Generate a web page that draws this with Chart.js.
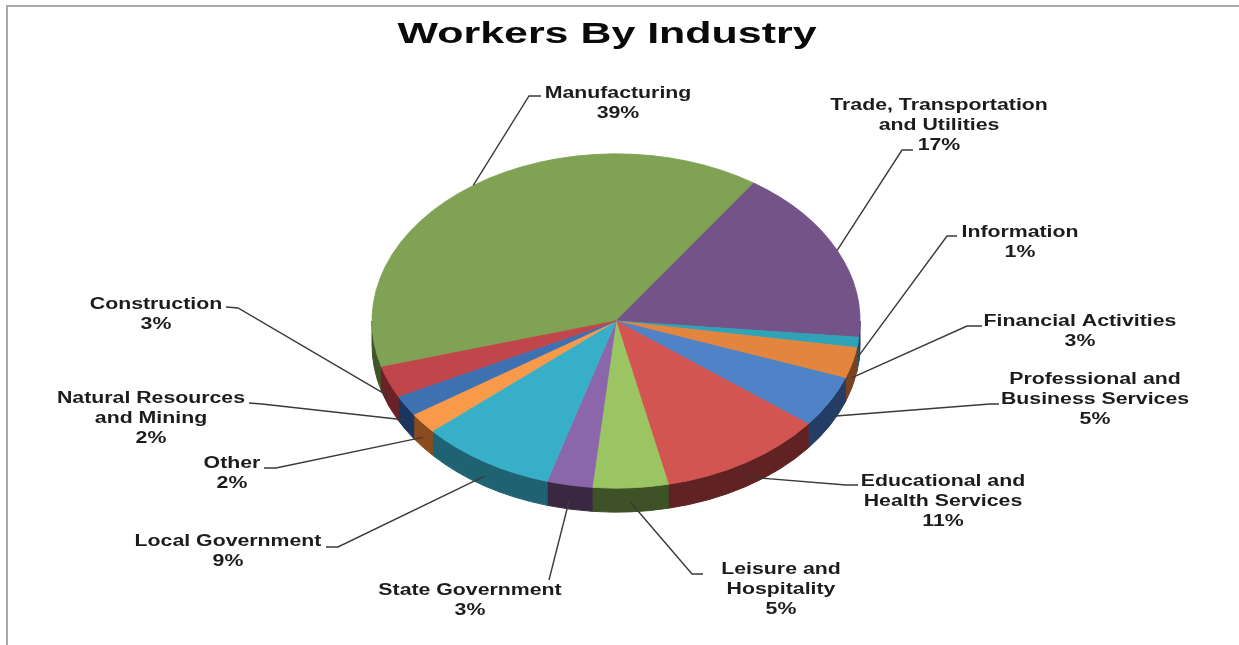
<!DOCTYPE html>
<html>
<head>
<meta charset="utf-8">
<title>Workers By Industry</title>
<script src="https://cdn.jsdelivr.net/npm/chart.js@4.4.1/dist/chart.umd.min.js"></script>
<style>
  html, body { margin: 0; padding: 0; background: #fff; }
  #wrap { position: relative; width: 1239px; height: 645px; }
</style>
</head>
<body>
<div id="wrap"><canvas id="industryChart"></canvas></div>
<script>
// slices, clockwise
const industries = [
  'Manufacturing',
  'Trade, Transportation\nand Utilities',
  'Information',
  'Financial Activities',
  'Professional and\nBusiness Services',
  'Educational and\nHealth Services',
  'Leisure and\nHospitality',
  'State Government',
  'Local Government',
  'Other',
  'Natural Resources\nand Mining',
  'Construction'
];
const shares = [39, 17, 1, 3, 5, 11, 5, 3, 9, 2, 2, 3];

const topColors  = ['#7fa254', '#745389', '#2fa3b8', '#e3843f', '#4f82c6', '#d35552',
                    '#9bc462', '#8c66aa', '#38afc8', '#f89a4a', '#3e71b2', '#c0464b'];
const sideColors = ['#40552a', '#3b2a48', '#18596a', '#7a4220', '#233d66', '#602222',
                    '#3e5127', '#3a2842', '#1f6272', '#8a4c1e', '#1c3560', '#6a2226'];

// where each label sits: text centre x, first baseline, leader start + elbow
const labelSpots = [
  { x: 618,  y: 98,  from: [541, 96],  elbow: [529, 96] },
  { x: 939,  y: 110, from: [913, 150], elbow: [902, 150] },
  { x: 1020, y: 237, from: [957, 236], elbow: [947, 236] },
  { x: 1080, y: 326, from: [982, 326], elbow: [967, 326] },
  { x: 1095, y: 384, from: [999, 404], elbow: [990, 404] },
  { x: 943,  y: 486, from: [858, 485], elbow: [846, 485] },
  { x: 781,  y: 574, from: [703, 574], elbow: [692, 574] },
  { x: 470,  y: 595, from: [549, 580], elbow: [549, 580] },
  { x: 228,  y: 546, from: [326, 547], elbow: [338, 547] },
  { x: 232,  y: 468, from: [264, 468], elbow: [276, 468] },
  { x: 151,  y: 403, from: [249, 403], elbow: [262, 404] },
  { x: 156,  y: 309, from: [226, 307], elbow: [238, 308] }
];

const TILT = 0.685;   // vertical squash of the pie top
const DEPTH = 24;     // wall height in px
const LINE_H = 20;

// parts of an arc that face the viewer (0..PI, mod 2PI)
function frontSpans(start, end) {
  const out = [];
  for (let k = -1; k <= 2; k++) {
    const a = Math.max(start, k * 2 * Math.PI);
    const b = Math.min(end, k * 2 * Math.PI + Math.PI);
    if (b > a) out.push([a, b]);
  }
  return out;
}

function stretchedText(ctx, text, x, y, sx) {
  ctx.save();
  ctx.translate(x, y);
  ctx.scale(sx, 1);
  ctx.fillText(text, 0, 0);
  ctx.restore();
}

const pie3d = {
  id: 'pie3d',
  beforeDatasetsDraw(chart) {
    const ctx = chart.ctx;
    const arcs = chart.getDatasetMeta(0).data;

    // side walls first
    arcs.forEach((arc, i) => {
      const { x, y, startAngle, endAngle, outerRadius } =
        arc.getProps(['x', 'y', 'startAngle', 'endAngle', 'outerRadius'], true);
      frontSpans(startAngle, endAngle).forEach(([a, b]) => {
        ctx.beginPath();
        ctx.ellipse(x, y, outerRadius, outerRadius * TILT, 0, a, b);
        ctx.ellipse(x, y + DEPTH, outerRadius, outerRadius * TILT, 0, b, a, true);
        ctx.closePath();
        ctx.fillStyle = sideColors[i];
        ctx.strokeStyle = sideColors[i];
        ctx.lineWidth = 1;
        ctx.fill();
        ctx.stroke();
      });
    });

    // then the squashed top faces
    arcs.forEach(arc => {
      ctx.save();
      ctx.translate(arc.x, arc.y);
      ctx.scale(1, TILT);
      ctx.translate(-arc.x, -arc.y);
      arc.draw(ctx);
      ctx.restore();
    });
    return false;
  },
  afterDraw(chart) {
    const ctx = chart.ctx;
    const arcs = chart.getDatasetMeta(0).data;

    // frame
    ctx.save();
    ctx.strokeStyle = '#a9a9a9';
    ctx.lineWidth = 2;
    ctx.beginPath();
    ctx.moveTo(7, 645);
    ctx.lineTo(7, 6);
    ctx.lineTo(1239, 6);
    ctx.stroke();

    // title
    ctx.fillStyle = '#0a0a0a';
    ctx.font = 'bold 29px "Liberation Sans", Arial, sans-serif';
    ctx.textAlign = 'center';
    ctx.textBaseline = 'alphabetic';
    stretchedText(ctx, 'Workers By Industry', 607, 43, 1.48);

    // leader lines + labels
    ctx.font = 'bold 16px "Liberation Sans", Arial, sans-serif';
    ctx.fillStyle = '#1c1c1c';
    ctx.strokeStyle = '#3a3a3a';
    ctx.lineWidth = 1.4;
    arcs.forEach((arc, i) => {
      const { x, y, startAngle, endAngle, outerRadius } =
        arc.getProps(['x', 'y', 'startAngle', 'endAngle', 'outerRadius'], true);
      const mid = (startAngle + endAngle) / 2;
      const ax = x + outerRadius * Math.cos(mid);
      let ay = y + outerRadius * TILT * Math.sin(mid);
      if (Math.sin(mid) > 0.05) ay += DEPTH * 0.6;

      const spot = labelSpots[i];
      ctx.beginPath();
      ctx.moveTo(spot.from[0], spot.from[1]);
      ctx.lineTo(spot.elbow[0], spot.elbow[1]);
      ctx.lineTo(ax, ay);
      ctx.stroke();

      const lines = industries[i].split('\n').concat(shares[i] + '%');
      lines.forEach((t, k) => stretchedText(ctx, t, spot.x, spot.y + k * LINE_H, 1.33));
    });
    ctx.restore();
  }
};

const ctx = document.getElementById('industryChart').getContext('2d');
const industryChart = new Chart(ctx, {
  type: 'pie',
  data: {
    labels: industries,
    datasets: [{
      data: shares,
      backgroundColor: topColors,
      borderColor: topColors,
      borderWidth: 1,
      hoverOffset: 0
    }]
  },
  options: {
    responsive: true,
    maintainAspectRatio: false,
    animation: false,
    events: [],
    rotation: 254,
    radius: 244,
    layout: { padding: { left: 372, right: 379, top: 77, bottom: 80 } },
    plugins: {
      legend: { display: false },
      title: { display: false },
      tooltip: { enabled: false }
    }
  },
  plugins: [pie3d]
});
</script>
</body>
</html>
